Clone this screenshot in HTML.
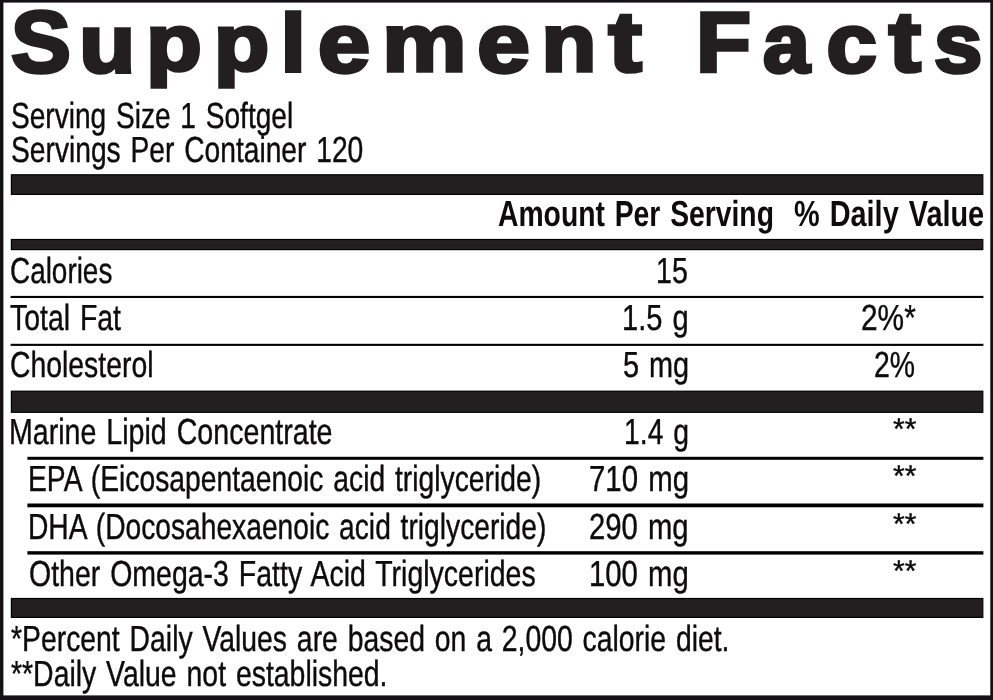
<!DOCTYPE html>
<html><head><meta charset="utf-8"><title>Supplement Facts</title>
<style>
html,body{margin:0;padding:0;background:#fff;}
body{width:993px;height:700px;position:relative;overflow:hidden;}
.t{position:absolute;font-family:'Liberation Sans', Arial, sans-serif;line-height:1;white-space:pre;transform-origin:0 0;text-rendering:geometricPrecision;}
.t{color:#0d0b0c;-webkit-text-stroke:0.4px #0d0b0c;word-spacing:2.5px;}
.title,.rules{position:absolute;left:0;top:0;}
</style></head><body>
<svg class="rules" width="993" height="700" viewBox="0 0 993 700"><rect x="0" y="0" width="993" height="2.6" fill="#141114"/><rect x="0" y="695.4" width="993" height="4.6" fill="#141114"/><rect x="0" y="0" width="3.4" height="700" fill="#141114"/><rect x="990.3" y="0" width="2.7" height="700" fill="#141114"/><rect x="11.4" y="174.79999999999998" width="971.40" height="19.60" fill="#231f20" stroke="#000" stroke-width="1.2"/><rect x="11.4" y="239.5" width="971.40" height="10.10" fill="#231f20" stroke="#000" stroke-width="1.2"/><rect x="10.6" y="295.9" width="972.80" height="2.10" fill="#000"/><rect x="10.6" y="343.8" width="972.80" height="2.10" fill="#000"/><rect x="11.4" y="391.20000000000005" width="971.40" height="21.10" fill="#231f20" stroke="#000" stroke-width="1.2"/><rect x="27.4" y="456.8" width="956.00" height="3.00" fill="#000"/><rect x="27.4" y="503.5" width="956.00" height="3.80" fill="#000"/><rect x="27.4" y="551.2" width="956.00" height="3.40" fill="#000"/><rect x="11.4" y="598.5" width="971.40" height="18.90" fill="#231f20" stroke="#000" stroke-width="1.2"/></svg>
<svg class="title" width="993" height="100" viewBox="0 0 993 100" aria-label="Supplement Facts"><g font-family="'Liberation Sans', Arial, sans-serif" font-size="86.34" font-weight="700" fill="#231f20" stroke="#231f20" stroke-width="3.6" stroke-linejoin="miter" stroke-miterlimit="2">
<text><tspan x="11.10" y="71.80" font-size="87.65" textLength="59.90" lengthAdjust="spacingAndGlyphs">S</tspan><tspan x="79.24" y="71.50" font-size="81.77" textLength="55.95" lengthAdjust="spacingAndGlyphs">u</tspan><tspan x="146.27" y="69.60" font-size="79.33" textLength="55.41" lengthAdjust="spacingAndGlyphs">p</tspan><tspan x="214.09" y="69.60" font-size="79.33" textLength="55.08" lengthAdjust="spacingAndGlyphs">p</tspan><tspan x="280.68" y="71.20" font-size="80.8" textLength="24.84" lengthAdjust="spacingAndGlyphs">l</tspan><tspan x="317.98" y="71.90" font-size="83.52" textLength="52.03" lengthAdjust="spacingAndGlyphs">e</tspan><tspan x="382.15" y="71.20" font-size="82.28" textLength="84.18" lengthAdjust="spacingAndGlyphs">m</tspan><tspan x="477.37" y="71.90" font-size="83.52" textLength="52.54" lengthAdjust="spacingAndGlyphs">e</tspan><tspan x="541.60" y="71.40" font-size="81.6" textLength="54.83" lengthAdjust="spacingAndGlyphs">n</tspan><tspan x="608.58" y="70.90" font-size="84.67" textLength="33.28" lengthAdjust="spacingAndGlyphs">t</tspan> <tspan x="695.95" y="72.00" font-size="85.67" textLength="54.94" lengthAdjust="spacingAndGlyphs">F</tspan><tspan x="763.00" y="71.90" font-size="82.52" textLength="46.75" lengthAdjust="spacingAndGlyphs">a</tspan><tspan x="826.42" y="71.90" font-size="83.52" textLength="50.27" lengthAdjust="spacingAndGlyphs">c</tspan><tspan x="888.84" y="70.90" font-size="84.67" textLength="32.15" lengthAdjust="spacingAndGlyphs">t</tspan><tspan x="933.95" y="71.90" font-size="82.52" textLength="48.31" lengthAdjust="spacingAndGlyphs">s</tspan></text>
</g></svg>
<div class="t" style="left:10.62px;top:97.70px;font-size:36.2px;font-weight:400;transform:scaleX(0.7762)">Serving Size 1 Softgel</div>
<div class="t" style="left:10.62px;top:131.50px;font-size:36.2px;font-weight:400;transform:scaleX(0.7793)">Servings Per Container 120</div>
<div class="t" style="left:497.52px;top:196.30px;font-size:36.2px;font-weight:700;transform:scaleX(0.7820);-webkit-text-stroke:0.0px #0d0b0c">Amount Per Serving</div>
<div class="t" style="left:793.50px;top:196.30px;font-size:36.2px;font-weight:700;transform:scaleX(0.7979);-webkit-text-stroke:0.0px #0d0b0c">% Daily Value</div>
<div class="t" style="left:10.23px;top:253.20px;font-size:36.2px;font-weight:400;transform:scaleX(0.7710)">Calories</div>
<div class="t" style="left:655.82px;top:253.20px;font-size:36.2px;font-weight:400;transform:scaleX(0.7892)">15</div>
<div class="t" style="left:10.40px;top:299.90px;font-size:36.2px;font-weight:400;transform:scaleX(0.7852)">Total Fat</div>
<div class="t" style="left:621.99px;top:299.90px;font-size:36.2px;font-weight:400;transform:scaleX(0.8025)">1.5 g</div>
<div class="t" style="left:861.28px;top:299.90px;font-size:36.2px;font-weight:400;transform:scaleX(0.8246)">2%*</div>
<div class="t" style="left:10.22px;top:346.60px;font-size:36.2px;font-weight:400;transform:scaleX(0.7839)">Cholesterol</div>
<div class="t" style="left:622.60px;top:346.60px;font-size:36.2px;font-weight:400;transform:scaleX(0.7975)">5 mg</div>
<div class="t" style="left:874.22px;top:346.60px;font-size:36.2px;font-weight:400;transform:scaleX(0.7843)">2%</div>
<div class="t" style="left:9.42px;top:413.80px;font-size:36.2px;font-weight:400;transform:scaleX(0.7904)">Marine Lipid Concentrate</div>
<div class="t" style="left:623.53px;top:413.80px;font-size:36.2px;font-weight:400;transform:scaleX(0.7835)">1.4 g</div>
<div class="t" style="left:893.00px;top:414.90px;font-size:30.0px;font-weight:400;transform:scaleX(1.0000)">**</div>
<div class="t" style="left:28.44px;top:460.90px;font-size:36.2px;font-weight:400;transform:scaleX(0.7816)">EPA (Eicosapentaenoic acid triglyceride)</div>
<div class="t" style="left:588.79px;top:460.90px;font-size:36.2px;font-weight:400;transform:scaleX(0.8117)">710 mg</div>
<div class="t" style="left:893.00px;top:462.00px;font-size:30.0px;font-weight:400;transform:scaleX(1.0000)">**</div>
<div class="t" style="left:28.44px;top:508.70px;font-size:36.2px;font-weight:400;transform:scaleX(0.7792)">DHA (Docosahexaenoic acid triglyceride)</div>
<div class="t" style="left:589.19px;top:508.70px;font-size:36.2px;font-weight:400;transform:scaleX(0.8083)">290 mg</div>
<div class="t" style="left:893.00px;top:509.80px;font-size:30.0px;font-weight:400;transform:scaleX(1.0000)">**</div>
<div class="t" style="left:29.21px;top:555.70px;font-size:36.2px;font-weight:400;transform:scaleX(0.7874)">Other Omega-3 Fatty Acid Triglycerides</div>
<div class="t" style="left:589.08px;top:555.70px;font-size:36.2px;font-weight:400;transform:scaleX(0.8092)">100 mg</div>
<div class="t" style="left:893.00px;top:556.80px;font-size:30.0px;font-weight:400;transform:scaleX(1.0000)">**</div>
<div class="t" style="left:10.90px;top:621.20px;font-size:36.2px;font-weight:400;transform:scaleX(0.7835)">*Percent Daily Values are based on a 2,000 calorie diet.</div>
<div class="t" style="left:10.90px;top:656.10px;font-size:36.2px;font-weight:400;transform:scaleX(0.7851)">**Daily Value not established.</div>
</body></html>
